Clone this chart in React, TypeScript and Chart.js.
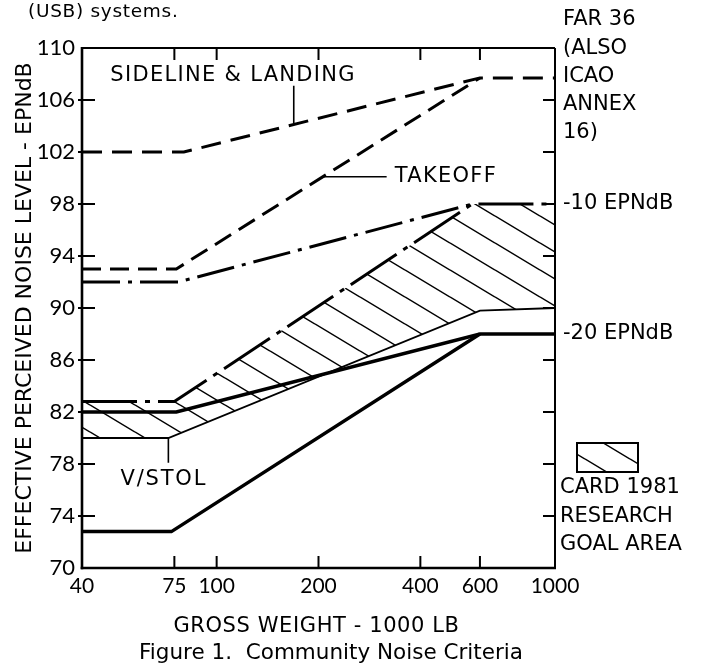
import React, { useEffect, useRef } from "react";
import { Chart, registerables } from "chart.js";

Chart.register(...registerables);

// ---- axis ticks ----
const xTickValues = [40, 75, 100, 200, 400, 600, 1000];
const yTickValues = [70, 74, 78, 82, 86, 90, 94, 98, 102, 106, 110];

// ---- series (gross weight in 1000 lb, EPNdB) ----
const sidelineX = [40, 80, 600, 1000];
const sidelineY = [102, 102, 107.7, 107.7];
const takeoffX = [40, 76, 600];
const takeoffY = [93, 93, 107.7];
const minus10X = [40, 77, 570];
const minus10Y = [92, 92, 98];
const goalTopX = [40, 75, 570, 1000];
const goalTopY = [82.8, 82.8, 98, 98];
const goalBottomX = [40, 72, 600, 1000];
const goalBottomY = [80, 80, 89.8, 90];
const minus20X = [40, 76, 600, 1000];
const minus20Y = [82, 82, 88, 88];
const vstolX = [40, 73.5, 600];
const vstolY = [72.8, 72.8, 88];

// ---- leader lines ----
const sidelineLeaderX = [169, 169];
const sidelineLeaderY = [107.1, 104.2];
const takeoffLeaderX = [205, 318];
const takeoffLeaderY = [100.1, 100.1];
const vstolLeaderX = [72, 72];
const vstolLeaderY = [80, 78.1];

// ---- texts ----
const topNote = "(USB) systems.";
const yTitle = "EFFECTIVE PERCEIVED NOISE LEVEL - EPNdB";
const xTitle = "GROSS WEIGHT - 1000 LB";
const caption = "Figure 1.  Community Noise Criteria";
const farLines = ["FAR 36", "(ALSO", "ICAO", "ANNEX", "16)"];
const minus10Label = "-10 EPNdB";
const minus20Label = "-20 EPNdB";
const legendLines = ["CARD 1981", "RESEARCH", "GOAL AREA"];
const sidelineLabel = "SIDELINE & LANDING";
const takeoffLabel = "TAKEOFF";
const vstolLabel = "V/STOL";

const TXT = "'DejaVu Sans', sans-serif";
const NUM = "'Liberation Sans Narrow', 'Lato', sans-serif";

function pts(xs: number[], ys: number[]) {
  return xs.map((x, i) => ({ x, y: ys[i] }));
}

function makeHatch(w: number, h: number, lw: number) {
  const c = document.createElement("canvas");
  c.width = w;
  c.height = h;
  const g = c.getContext("2d")!;
  g.strokeStyle = "#000";
  g.lineWidth = lw;
  g.beginPath();
  for (const k of [-1, 0, 1]) {
    g.moveTo(0, k * h);
    g.lineTo(w, k * h + h);
  }
  g.stroke();
  return g.createPattern(c, "repeat")!;
}

export default function App() {
  const ref = useRef<HTMLCanvasElement>(null);

  useEffect(() => {
    if (!ref.current) return;
    const hatch = makeHatch(45, 27, 1.5);

    const line = (ctx: CanvasRenderingContext2D, x1: number, y1: number, x2: number, y2: number) => {
      ctx.beginPath();
      ctx.moveTo(x1, y1);
      ctx.lineTo(x2, y2);
      ctx.stroke();
    };

    const decor = {
      id: "decor",
      afterDatasetsDraw(chart: any) {
        const { ctx, chartArea: a, scales } = chart;
        const xs = scales.x;
        const ys = scales.y;
        ctx.save();
        ctx.strokeStyle = "#000";
        ctx.lineCap = "butt";
        ctx.lineWidth = 2.6;
        line(ctx, a.left, a.top - 1, a.left, a.bottom + 1.3);
        line(ctx, a.left - 1.3, a.bottom, a.right + 1, a.bottom);
        ctx.lineWidth = 2;
        line(ctx, a.left, a.top, a.right, a.top);
        line(ctx, a.right, a.top, a.right, a.bottom);
        for (const t of ys.ticks) {
          if (t.value <= yTickValues[0] || t.value >= yTickValues[yTickValues.length - 1]) continue;
          const py = ys.getPixelForValue(t.value);
          line(ctx, a.left - 4, py, a.left + 13, py);
          line(ctx, a.right - 12, py, a.right, py);
        }
        for (const t of xs.ticks) {
          if (t.value <= xTickValues[0] || t.value >= xTickValues[xTickValues.length - 1]) continue;
          const px = xs.getPixelForValue(t.value);
          line(ctx, px, a.bottom, px, a.bottom - 12);
          line(ctx, px, a.top, px, a.top + 12);
        }
        ctx.restore();
      },
      afterDraw(chart: any) {
        const { ctx, chartArea: a, scales } = chart;
        const xs = scales.x;
        const ys = scales.y;
        ctx.save();
        ctx.fillStyle = "#000";
        ctx.textBaseline = "middle";

        // in-plot labels
        ctx.font = `21px ${TXT}`;
        ctx.textAlign = "left";
        (ctx as any).letterSpacing = "1.3px";
        ctx.fillText(sidelineLabel, xs.getPixelForValue(48.5), ys.getPixelForValue(107.9));
        ctx.fillText(takeoffLabel, xs.getPixelForValue(336), ys.getPixelForValue(100.1));
        (ctx as any).letterSpacing = "1.8px";
        ctx.fillText(vstolLabel, xs.getPixelForValue(52), ys.getPixelForValue(76.8));
        (ctx as any).letterSpacing = "0px";

        // right-side labels
        const rx = a.right + 8;
        farLines.forEach((s, i) => ctx.fillText(s, rx, 20 + i * 28.2));
        ctx.fillText(minus10Label, rx, ys.getPixelForValue(98));
        ctx.fillText(minus20Label, rx, ys.getPixelForValue(88));
        legendLines.forEach((s, i) => ctx.fillText(s, rx - 3, 488 + i * 28.5));

        // legend swatch
        ctx.fillStyle = hatch;
        ctx.fillRect(a.right + 22, 443, 61, 29);
        ctx.strokeStyle = "#000";
        ctx.lineWidth = 2;
        ctx.strokeRect(a.right + 22, 443, 61, 29);
        ctx.fillStyle = "#000";

        // axis titles
        ctx.textAlign = "center";
        ctx.font = `21px ${TXT}`;
        (ctx as any).letterSpacing = "0.6px";
        ctx.fillText(xTitle, (a.left + a.right) / 2 - 2, 627);
        (ctx as any).letterSpacing = "0px";
        ctx.font = `21.5px ${TXT}`;
        ctx.fillText(caption, 331, 653);
        ctx.save();
        ctx.translate(25, (a.top + a.bottom) / 2);
        ctx.rotate(-Math.PI / 2);
        ctx.font = `22px ${TXT}`;
        ctx.fillText(yTitle, 0, 0);
        ctx.restore();

        // clipped note at top
        ctx.textAlign = "left";
        ctx.textBaseline = "alphabetic";
        ctx.font = `18.5px ${TXT}`;
        (ctx as any).letterSpacing = "0.7px";
        ctx.fillText(topNote, 28, 17);
        (ctx as any).letterSpacing = "0px";
        ctx.restore();
      },
    };

    const base = {
      borderColor: "#000",
      pointRadius: 0,
      pointHoverRadius: 0,
      tension: 0,
      fill: false,
    };

    const chart = new Chart(ref.current, {
      type: "line",
      data: {
        datasets: [
          { ...base, label: "Sideline & landing", data: pts(sidelineX, sidelineY), borderWidth: 3, borderDash: [20, 10] },
          { ...base, label: "Takeoff", data: pts(takeoffX, takeoffY), borderWidth: 3, borderDash: [19, 9] },
          { ...base, label: "-10 EPNdB", data: pts(minus10X, minus10Y), borderWidth: 3, borderDash: [38, 8, 4, 8] },
          {
            ...base,
            label: "Goal area top",
            data: pts(goalTopX, goalTopY),
            borderWidth: 3,
            borderDash: [55, 8, 5, 8],
            fill: "+1",
            backgroundColor: hatch,
          },
          { ...base, label: "Goal area bottom", data: pts(goalBottomX, goalBottomY), borderWidth: 1.8 },
          { ...base, label: "-20 EPNdB", data: pts(minus20X, minus20Y), borderWidth: 3.5 },
          { ...base, label: "V/STOL", data: pts(vstolX, vstolY), borderWidth: 3.5 },
          { ...base, label: "leader1", data: pts(sidelineLeaderX, sidelineLeaderY), borderWidth: 1.6 },
          { ...base, label: "leader2", data: pts(takeoffLeaderX, takeoffLeaderY), borderWidth: 1.6 },
          { ...base, label: "leader3", data: pts(vstolLeaderX, vstolLeaderY), borderWidth: 1.6 },
        ],
      },
      options: {
        animation: false,
        responsive: true,
        maintainAspectRatio: false,
        layout: { padding: { left: 0, top: 48, right: 152, bottom: 0 } },
        plugins: {
          legend: { display: false },
          tooltip: { enabled: false },
          filler: { drawTime: "beforeDatasetsDraw" },
        },
        scales: {
          x: {
            type: "logarithmic",
            min: 40,
            max: 1000,
            grid: { display: false, drawTicks: false },
            border: { display: false },
            afterBuildTicks: (s: any) => {
              s.ticks = xTickValues.map((v) => ({ value: v }));
            },
            afterFit: (s: any) => {
              s.height = 99;
            },
            ticks: {
              autoSkip: false,
              maxRotation: 0,
              padding: 6,
              color: "#000",
              font: { family: NUM, size: 21 },
              callback: (v: any) => String(v),
            },
          },
          y: {
            type: "linear",
            min: 70,
            max: 110,
            grid: { display: false, drawTicks: false },
            border: { display: false },
            afterBuildTicks: (s: any) => {
              s.ticks = yTickValues.map((v) => ({ value: v }));
            },
            afterFit: (s: any) => {
              s.width = 82;
            },
            ticks: {
              padding: 7,
              color: "#000",
              font: { family: NUM, size: 22 },
              callback: (v: any) => String(v),
            },
          },
        },
      },
      plugins: [decor],
    } as any);

    return () => chart.destroy();
  }, []);

  return (
    <div style={{ position: "absolute", left: 0, top: 0, width: 707, height: 667, background: "#fff" }}>
      <canvas ref={ref} />
    </div>
  );
}
